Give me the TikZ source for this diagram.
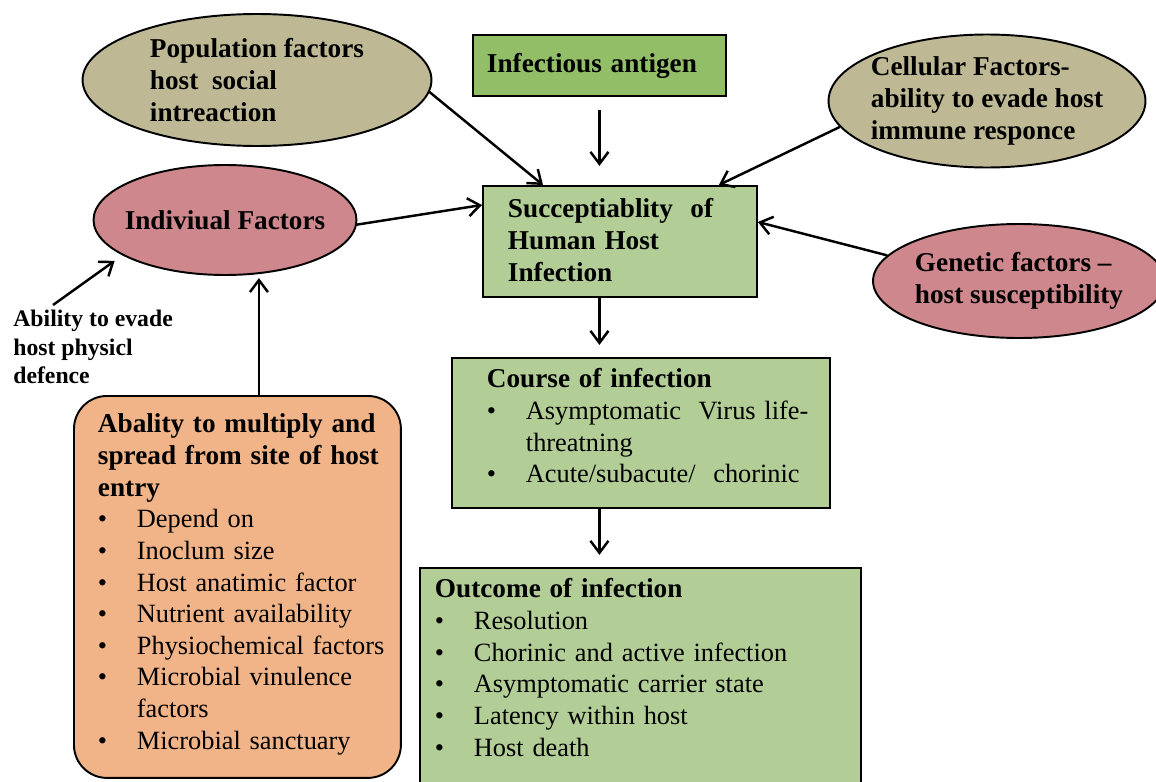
\documentclass[tikz,border=0pt]{standalone}
\usepackage{fontspec}
\setmainfont{Liberation Serif}
\usetikzlibrary{shapes.geometric,arrows.meta}

\definecolor{khaki}{RGB}{190,185,148}
\definecolor{rose}{RGB}{206,135,141}
\definecolor{leaf}{RGB}{146,190,104}
\definecolor{pale}{RGB}{178,205,150}
\definecolor{peach}{RGB}{240,180,136}

% bullet item, continued item and bold box heading (one unbroken line each)
\newcommand{\itm}[1]{\mbox{\makebox[0.78cm][l]{\textbullet}#1}}
\newcommand{\itc}[1]{\mbox{\hspace*{0.78cm}#1}}
\newcommand{\hd}[1]{\mbox{\fontsize{15.5}{18}\selectfont\bfseries #1}}

\begin{document}
\begin{tikzpicture}[x=0.02cm, y=-0.02cm, >={Straight Barb[length=2.4mm,width=3.6mm]},
  oval/.style={ellipse, draw, line width=1.1pt, inner sep=-1cm, align=left, font=\fontsize{15.5}{18}\selectfont\bfseries},
  box/.style={draw, line width=1.1pt, anchor=north west, inner ysep=0pt, align=left, font=\fontsize{15}{18}\selectfont},
  arr/.style={->, line width=1.4pt}]
\clip (0,0) rectangle (1156,781);

% factors around the host
\node[oval, fill=khaki, minimum width=6.98cm, minimum height=2.64cm] (pop) at (257,80) {Population factors\\host~ social\\intreaction};
\node[oval, fill=khaki, minimum width=6.34cm, minimum height=2.66cm] (cell) at (987,101) {Cellular Factors-\\ability to evade host\\immune responce};
\node[oval, fill=rose, minimum width=5.26cm, minimum height=2.2cm] (ind) at (225,220) {Indiviual Factors};
\node[oval, fill=rose, minimum width=5.84cm, minimum height=2.28cm] (gen) at (1019,281) {Genetic factors --\\host susceptibility};

% central chain
\node[box, fill=leaf, inner xsep=0.28cm, text width=4.5cm, text height=0.76cm, text depth=0.46cm] (ant) at (472,34) {\hd{Infectious antigen}};
\node[box, fill=pale, inner xsep=0.5cm, text width=4.48cm, text height=0.64cm, text depth=1.58cm] (succ) at (482,185)
  {\hd{Succeptiablity~ of}\\ \hd{Human Host}\\ \hd{Infection}};
\node[box, fill=pale, inner xsep=0.7cm, text width=6.16cm, text height=0.6cm, text depth=2.4cm] (course) at (451,357)
  {\hd{Course of infection}\\
   \itm{Asymptomatic~ Virus life-}\\
   \itc{threatning}\\
   \itm{Acute/subacute/~ chorinic}};
\node[box, fill=pale, inner xsep=0.3cm, text width=8.22cm, text height=0.6cm, text depth=4.2cm] (outc) at (419,567)
  {\hd{Outcome of infection}\\
   \itm{Resolution}\\
   \itm{Chorinic and active infection}\\
   \itm{Asymptomatic carrier state}\\
   \itm{Latency within host}\\
   \itm{Host death}};

% spread box and side note
\node[box, fill=peach, rounded corners=0.66cm, inner xsep=0.48cm, text width=5.58cm, text height=0.74cm, text depth=6.9cm] (mult) at (73,395)
  {\hd{Abality to multiply and}\\
   \hd{spread from site of host}\\
   \hd{entry}\\
   \itm{Depend on}\\
   \itm{Inoclum size}\\
   \itm{Host anatimic factor}\\
   \itm{Nutrient availability}\\
   \itm{Physiochemical factors}\\
   \itm{Microbial vinulence}\\
   \itc{factors}\\
   \itm{Microbial sanctuary}};
\node[anchor=north west, inner sep=0pt, align=left, font=\fontsize{13.5}{16.2}\selectfont\bfseries] (evade) at (13,310)
  {Ability to evade\\host physicl\\defence};

\draw[arr] (pop.-4) -- ([xshift=1.22cm]succ.north west);
\draw[arr] ([yshift=-0.26cm]ant.south) -- ++(0,-1.12cm);
\draw[arr] (cell.190) -- ([xshift=-0.78cm]succ.north east);
\draw[arr] (gen.169) -- ([yshift=-0.74cm]succ.north east);
\draw[arr] (ind.-2) -- ([yshift=-0.4cm]succ.north west);
\draw[arr] (succ.south -| ant.south) -- ++(0,-0.94cm);
\draw[arr] (course.south -| ant.south) -- ++(0,-0.92cm);
\draw[arr] ([xshift=0.43cm]mult.north) -- ++(0,2.34cm);
\draw[arr, shorten >=0.19cm] ([xshift=0.8cm,yshift=0.1cm]evade.north west) -- (ind.199);
\end{tikzpicture}
\end{document}
